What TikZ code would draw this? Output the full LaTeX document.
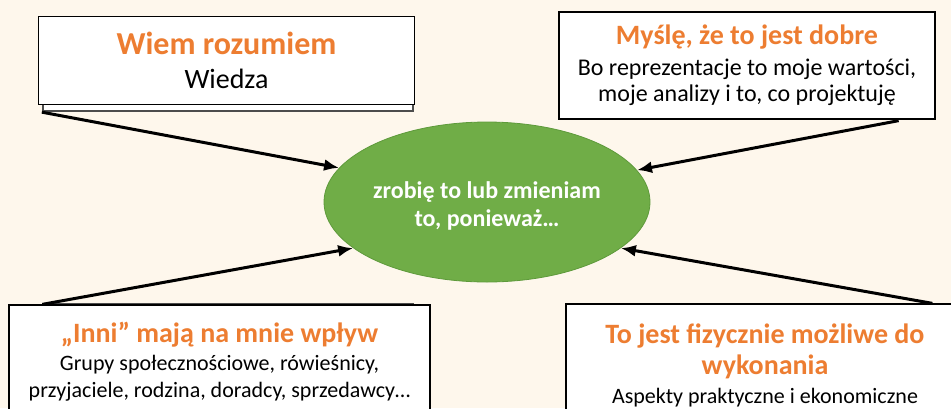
\documentclass[tikz,border=0pt]{standalone}
\usepackage{fontspec}
\setmainfont{Carlito}
\usetikzlibrary{arrows.meta, calc, shapes.geometric}

\definecolor{tlo}{HTML}{FEF7EC}
\definecolor{pomarancz}{HTML}{ED7D31}
\definecolor{zielony}{HTML}{70AD47}
\definecolor{zielonyB}{HTML}{5E9A3B}

\tikzset{
  ramka/.style={draw=black, line width=1.3pt, fill=white, align=center,
    inner sep=0pt, font=\fontsize{22}{26}\selectfont},
  cien/.style={draw=gray!60!black, line width=1.2pt, fill=white},
  strzalka/.style={line width=3pt, -{Latex[length=15pt, width=12pt]}},
}
\newcommand\tytul[2][28]{{\color{pomarancz}\bfseries\fontsize{#1}{30}\selectfont #2}}
\newcommand\nizej[1]{\raisebox{-4pt}[\height][\depth]{#1}}

\begin{document}
\begin{tikzpicture}[x=1pt, y=-1pt]
    % --- 1. tło i obszar rysunku ---
    \fill[tlo] (0,0) rectangle (951,408);
    \useasboundingbox (0,0) rectangle (951,408);
    \clip (0,0) rectangle (951,408);

    % --- 2. ramki w tle ---
    \draw[cien] (43,20) rectangle (413,111);
    \draw[cien] (43,304) rectangle (413,420);

    % --- 3. cztery ramki z opisami ---
    \node[ramka, minimum width=376pt, minimum height=88pt,
        font=\fontsize{28}{30}\selectfont] (wiedza) at (226.5,60.5)
        {\tytul[32]{Wiem rozumiem}\\[4pt] Wiedza};
    \node[ramka, minimum width=376pt, minimum height=107pt,
        font=\fontsize{24}{26}\selectfont] (wartosci) at (747,65.5)
        {\tytul{Myślę, że to jest dobre}\\[5pt] Bo reprezentacje to moje wartości,\\ moje analizy i to, co projektuję};
    \node[ramka, minimum width=421pt, minimum height=114pt] (inni) at (219.5,362)
        {\tytul{„Inni” mają na mnie wpływ}\\[2pt] Grupy społecznościowe, rówieśnicy,\\[1pt] przyjaciele, rodzina, doradcy, sprzedawcy…};
    \node[ramka, minimum width=398pt, minimum height=122pt] (mozliwe) at (765,365)
        {\tytul{To jest fizycznie możliwe do}\\[5pt] \tytul{wykonania}\\[3pt] Aspekty praktyczne i ekonomiczne};

    % --- 4. elipsa w środku ---
    \node[ellipse, fill=zielony, draw=zielonyB, line width=0.8pt, minimum width=326pt,
        minimum height=160pt, inner sep=0pt, text=white, align=center,
        font=\bfseries\fontsize{24}{28}\selectfont] (decyzja) at (487,202)
        {\nizej{zrobię to lub zmieniam}\\ \nizej{to, ponieważ…}};

    % --- 5. strzałki do elipsy ---
    \coordinate (wiedzaA) at ($(wiedza.south west)+(4,7)$);
    \coordinate (wartosciA) at ($(wartosci.south east)+(-37,1)$);
    \coordinate (inniA) at ($(inni.north west)+(34,0)$);
    \coordinate (mozliweA) at ($(mozliwe.north west)+(367,0)$);

    \draw[strzalka] (wiedzaA) -- (decyzja.167);
    \draw[strzalka] (wartosciA) -- (decyzja.12);
    \draw[strzalka] (inniA) -- (decyzja.199);
    \draw[strzalka] (mozliweA) -- (decyzja.341);
\end{tikzpicture}
\end{document}
